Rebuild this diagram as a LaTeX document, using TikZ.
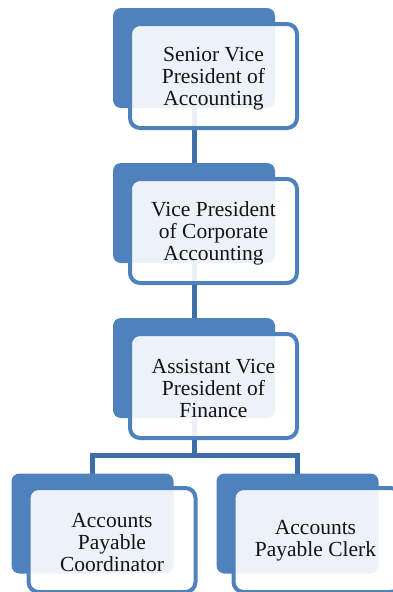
\documentclass[tikz,border=0pt]{standalone}
\usepackage{fontspec}
\setmainfont{Liberation Serif}
\definecolor{boxblue}{RGB}{79,129,189}
\definecolor{linkblue}{RGB}{62,110,168}
\definecolor{textgray}{RGB}{20,20,20}
\begin{document}
\begin{tikzpicture}[x=1pt,y=-1pt,
  backbox/.style={fill=boxblue,draw=none,rounded corners=8pt,
    minimum width=162pt,minimum height=100pt,inner sep=0pt},
  frontbox/.style={draw=boxblue,line width=4pt,fill=white,fill opacity=0.9,
    rounded corners=10pt,minimum width=167pt,minimum height=104pt,inner sep=0pt},
  title/.style={align=center,text=textgray,inner sep=0pt,
    font=\fontsize{21.5}{22}\selectfont},
  conn/.style={draw=linkblue,line width=5pt}]
\useasboundingbox (0,0) rectangle (393,592);
% connector layer
\coordinate (split) at (194,455);
\coordinate (b1c) at (194,58);
\coordinate (b2c) at (194,213);
\coordinate (b3c) at (194,368);
\coordinate (b4c) at (92.5,523.5);
\coordinate (b5c) at (297.5,523.5);
\draw[conn] (b1c) -- (b2c);
\draw[conn] (b2c) -- (b3c);
\draw[conn] (b3c) -- (split) -| (b4c);
\draw[conn] (split) -| (b5c);
% solid back boxes
\node[backbox] (b1) at (b1c) {};
\node[backbox] (b2) at (b2c) {};
\node[backbox] (b3) at (b3c) {};
\node[backbox] (b4) at (b4c) {};
\node[backbox] (b5) at (b5c) {};
% outlined front boxes
\node[frontbox] (f1) at (213.5,76) {};
\node[frontbox] (f2) at (213.5,231) {};
\node[frontbox] (f3) at (213.5,386) {};
\node[frontbox] (f4) at (112,540) {};
\node[frontbox] (f5) at (317,540) {};
% titles
\node[title] (t1) at ([yshift=-3pt]f1.center) {Senior Vice\\President of\\Accounting};
\node[title] (t2) at ([yshift=-2pt]f2.center) {Vice President\\of Corporate\\Accounting};
\node[title] (t3) at ([yshift=-2pt]f3.center) {Assistant Vice\\President of\\Finance};
\node[title] (t4) at ([yshift=-3pt]f4.center) {Accounts\\Payable\\Coordinator};
\node[title] (t5) at ([yshift=-1pt,xshift=-1.5pt]f5.center) {Accounts\\Payable Clerk};
\end{tikzpicture}
\end{document}
